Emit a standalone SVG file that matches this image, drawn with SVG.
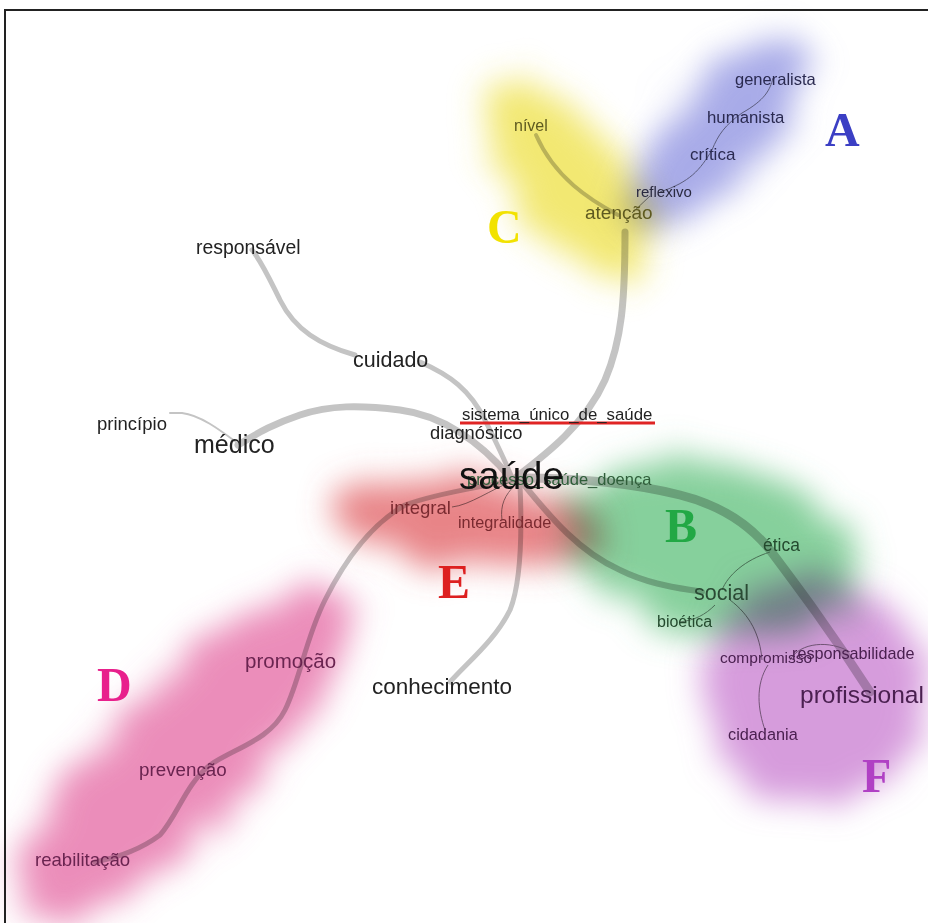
<svg xmlns="http://www.w3.org/2000/svg" width="928" height="923" viewBox="0 0 928 923" fill="#222">
<defs>
<filter id="soft" x="-50%" y="-50%" width="200%" height="200%">
<feTurbulence type="fractalNoise" baseFrequency="0.04" numOctaves="3" seed="4" result="n"/>
<feDisplacementMap in="SourceGraphic" in2="n" scale="45" xChannelSelector="R" yChannelSelector="G" result="d"/>
<feGaussianBlur in="d" stdDeviation="16"/>
</filter>
<style>
.e{fill:none;stroke:#c4c4c4;stroke-linecap:round}
.t{fill:none;stroke:#8a8a8a;stroke-width:1}
text{font-family:"Liberation Sans",Arial,sans-serif}
.L{font-family:"Liberation Serif","Times New Roman",serif;font-weight:bold;font-size:48px}
.blob{mix-blend-mode:multiply}
</style>
</defs>
<rect x="0" y="0" width="928" height="923" fill="#fff"/>
<rect x="5" y="10" width="940" height="925" fill="none" stroke="#222" stroke-width="2"/>

<g id="connectors">
<path class="e" stroke-width="7" d="M515,478 C545,455 585,425 605,380 C622,340 625,300 625,232"/>
<path class="e" stroke-width="4" d="M618,215 C590,200 555,178 536,135"/>
<path class="t" d="M632,213 L650,196"/>
<path class="t" stroke="#7a7ab0" d="M660,192 C690,182 700,170 712,150 C718,135 725,125 742,113 C765,100 770,90 773,78"/>
<path class="e" stroke-width="5" d="M420,362 C450,375 470,390 485,420 C495,440 505,460 512,478"/>
<path class="e" stroke-width="5" d="M355,355 C320,345 295,330 280,300 C270,280 262,262 252,250"/>
<path class="e" stroke-width="7" d="M512,480 C480,440 440,415 400,410 C360,405 330,405 300,415 C270,425 255,435 238,445"/>
<path class="e" stroke-width="2" d="M236,442 C220,430 200,415 182,413 L170,413"/>
<path class="e" stroke-width="5" d="M512,480 C480,488 440,492 405,505 C370,525 345,560 325,600 C305,640 300,680 285,710 C270,740 235,748 210,765 C185,785 178,815 160,835 C140,850 115,858 95,862"/>
<path class="t" stroke="#999" stroke-width="1.5" d="M515,480 C490,490 470,505 452,507"/>
<path class="t" stroke="#999" d="M515,485 C505,495 500,505 502,520"/>
<path class="e" stroke-width="5" d="M520,485 C522,530 522,580 510,610 C495,640 470,660 450,682"/>
<path class="e" stroke-width="6" d="M520,480 C545,510 575,550 620,570 C650,585 680,588 702,592"/>
<path class="e" stroke-width="9" d="M520,478 C560,478 620,480 680,495 C720,505 750,525 770,550 C800,590 830,630 870,692"/>
<path class="t" d="M770,552 C745,560 728,575 722,590"/>
<path class="t" d="M715,605 C705,615 695,620 680,622"/>
<path class="t" d="M730,600 C750,615 760,635 762,660"/>
<path class="t" d="M768,665 C755,685 758,710 765,730"/>
<path class="t" d="M790,660 C800,642 830,640 850,652"/>
<line x1="460" y1="423" x2="655" y2="423" stroke="#e02424" stroke-width="3"/>
</g>

<g id="clusters" fill-opacity="0.74">
<ellipse class="blob" cx="718" cy="132" rx="125" ry="48" transform="rotate(-47 718 132)" fill="#8a8ee0" filter="url(#soft)"/>
<ellipse class="blob" cx="568" cy="180" rx="118" ry="55" transform="rotate(52 568 180)" fill="#ede040" filter="url(#soft)"/>
<ellipse class="blob" cx="712" cy="548" rx="150" ry="82" transform="rotate(12 712 548)" fill="#5cbf78" filter="url(#soft)"/>
<ellipse class="blob" cx="466" cy="522" rx="138" ry="44" transform="rotate(6 466 522)" fill="#e05a5e" filter="url(#soft)"/>
<ellipse class="blob" cx="815" cy="690" rx="112" ry="115" fill="#c878d0" filter="url(#soft)"/>
<ellipse class="blob" cx="185" cy="752" rx="225" ry="72" transform="rotate(-45 185 752)" fill="#e466a2" filter="url(#soft)"/>
</g>

<g id="labels">
<text class="L" x="825" y="146" fill="#3b3fc4">A</text>
<text class="L" x="665" y="542" fill="#22a845">B</text>
<text class="L" x="487" y="243" fill="#f2e200">C</text>
<text class="L" x="97" y="701" fill="#e8208c">D</text>
<text class="L" x="438" y="598" fill="#dd2020">E</text>
<text class="L" x="862" y="792" fill="#b040c4">F</text>
</g>

<g id="n-generalista"><text x="735" y="85" font-size="16.5" fill="#2a2a50">generalista</text></g>
<g id="n-humanista"><text x="707" y="123" font-size="16.8" fill="#2a2a50">humanista</text></g>
<g id="n-critica"><text x="690" y="160" font-size="17" fill="#2a2a50">crítica</text></g>
<g id="n-reflexivo"><text x="636" y="197" font-size="15" fill="#2a2a40">reflexivo</text></g>
<g id="n-atencao"><text x="585" y="219" font-size="19" fill="#5e5a20">atenção</text></g>
<g id="n-nivel"><text x="514" y="131" font-size="16" fill="#5e5a20">nível</text></g>
<g id="n-responsavel"><text x="196" y="254" font-size="19.4">responsável</text></g>
<g id="n-cuidado"><text x="353" y="367" font-size="21.5">cuidado</text></g>
<g id="n-principio"><text x="97" y="430" font-size="18.5">princípio</text></g>
<g id="n-medico"><text x="194" y="453" font-size="25">médico</text></g>
<g id="n-sus"><text x="462" y="420" font-size="16.8">sistema_único_de_saúde</text></g>
<g id="n-diagnostico"><text x="430" y="439" font-size="18.3">diagnóstico</text></g>
<g id="n-processo"><text x="467" y="485" font-size="16.5" fill="#2f5e3a">processo_saúde_doença</text></g>
<g id="n-saude"><text x="459" y="489" font-size="38.5" fill="#111">saúde</text></g>
<g id="n-integral"><text x="390" y="514" font-size="18.6" fill="#7a2a30">integral</text></g>
<g id="n-integralidade"><text x="458" y="528" font-size="16.3" fill="#7a2a30">integralidade</text></g>
<g id="n-etica"><text x="763" y="551" font-size="17.5" fill="#244a2e">ética</text></g>
<g id="n-social"><text x="694" y="600" font-size="21.5" fill="#2a4a34">social</text></g>
<g id="n-bioetica"><text x="657" y="627" font-size="16" fill="#244a2e">bioética</text></g>
<g id="n-compromisso"><text x="720" y="663" font-size="15.5" fill="#4a2050">compromisso</text></g>
<g id="n-responsabilidade"><text x="792" y="659" font-size="16.2" fill="#4a2050">responsabilidade</text></g>
<g id="n-profissional"><text x="800" y="703" font-size="24.5" fill="#4a2050">profissional</text></g>
<g id="n-cidadania"><text x="728" y="740" font-size="16.3" fill="#4a2050">cidadania</text></g>
<g id="n-promocao"><text x="245" y="668" font-size="20.5" fill="#6a2450">promoção</text></g>
<g id="n-prevencao"><text x="139" y="776" font-size="18.8" fill="#6a2450">prevenção</text></g>
<g id="n-reabilitacao"><text x="35" y="866" font-size="18.6" fill="#6a2450">reabilitação</text></g>
<g id="n-conhecimento"><text x="372" y="694" font-size="22.5">conhecimento</text></g>
</svg>
